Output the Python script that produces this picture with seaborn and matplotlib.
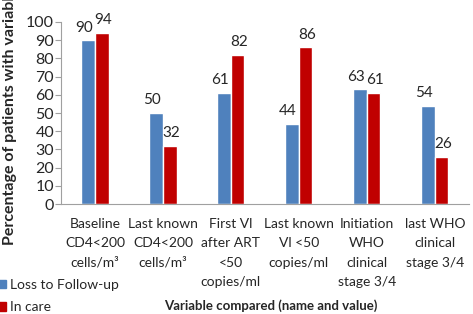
import pandas as pd
import numpy as np
import seaborn as sns
import matplotlib.pyplot as plt

categories = ["Baseline\nCD4<200\ncells/m³", "Last known\nCD4<200\ncells/m³",
              "First Vl\nafter ART\n<50\ncopies/ml", "Last known\nVl <50\ncopies/ml",
              "Initiation\nWHO\nclinical\nstage 3/4", "last WHO\nclinical\nstage 3/4"]
ltfu = [90, 50, 61, 44, 63, 54]
in_care = [94, 32, 82, 86, 61, 26]
series = ["Loss to Follow-up", "In care"]
colors = ["#4F81BD", "#C00000"]

df = pd.DataFrame({
    "cat": categories * 2,
    "value": ltfu + in_care,
    "group": [series[0]] * len(ltfu) + [series[1]] * len(in_care),
})

sns.set_style("white")
plt.rcParams['font.family'] = ['Lato', 'DejaVu Sans']

fig = plt.figure(figsize=(4.73, 3.14), dpi=100)
ax = fig.add_axes([0.129, 0.350, 0.862, 0.580])

sns.barplot(data=df, x="cat", y="value", hue="group", palette=colors,
            width=0.4, gap=0, saturation=1, ax=ax, legend=False)

# excel-ish label placement: blue labels nudged left
shifts = [-3, 1]
for c, dx in zip(ax.containers, shifts):
    for t in ax.bar_label(c, padding=4, fontsize=11):
        t.xyann = (dx, 4)

ax.set_ylim(0, 100)
ax.set_xlim(-0.5, 5.5)
ax.set_yticks(np.arange(0, 101, 10))
ax.tick_params(axis='y', labelsize=11.5, length=4, color='#a0a0a0', left=True, pad=1)
ax.tick_params(axis='x', labelsize=10, length=0, pad=10)
plt.setp(ax.get_xticklabels(), linespacing=1.75)
for s in ['top', 'right']:
    ax.spines[s].set_visible(False)
for s in ['left', 'bottom']:
    ax.spines[s].set_color('#a0a0a0')

ax.set_xlabel("")
ax.set_ylabel("Percentage of patients with variable", fontsize=11.5, fontweight='bold')
ax.yaxis.set_label_coords(-0.108, 0.48)

fig.text(0.573, 0.025, "Variable compared (name and value)", ha='center', va='center',
         fontsize=9.5, fontweight='bold')

handles = [plt.Rectangle((0, 0), 1, 1, color=c) for c in colors]
fig.legend(handles, series, loc='lower left', bbox_to_anchor=(-0.03, -0.038),
           frameon=False, fontsize=10, handlelength=0.55, handleheight=0.55,
           handletextpad=0.3, labelspacing=0.75)

fig.savefig("out.png", dpi=100)
